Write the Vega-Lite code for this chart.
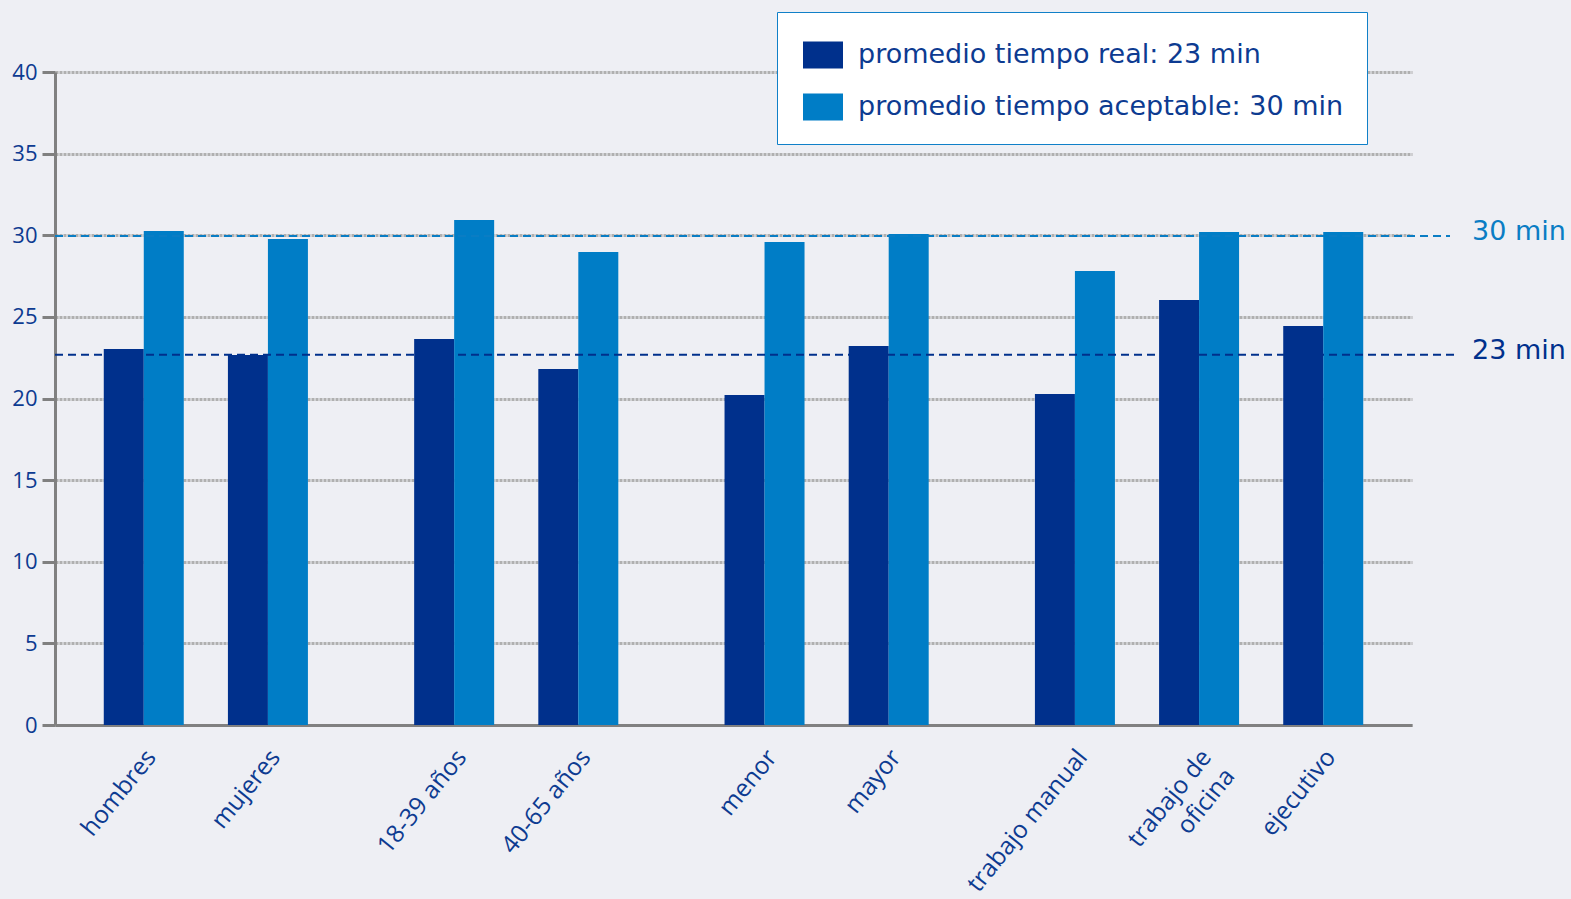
{
  "$schema": "https://vega.github.io/schema/vega-lite/v6.json",
  "width": 1357,
  "height": 653,
  "autosize": {"type": "none"},
  "padding": {"left": 55, "top": 72, "right": 159, "bottom": 174},
  "background": "#eeeff4",
  "config": {
    "view": {"stroke": null},
    "font": "Open Sans",
    "axis": {"labelFont": "Open Sans", "labelColor": "#0d3b91"}
  },
  "datasets": {
    "barras": [
      {"grupo": "hombres", "serie": "promedio tiempo real: 23 min", "valor": 23.03},
      {"grupo": "hombres", "serie": "promedio tiempo aceptable: 30 min", "valor": 30.26},
      {"grupo": "mujeres", "serie": "promedio tiempo real: 23 min", "valor": 22.66},
      {"grupo": "mujeres", "serie": "promedio tiempo aceptable: 30 min", "valor": 29.77},
      {"grupo": "18-39 años", "serie": "promedio tiempo real: 23 min", "valor": 23.64},
      {"grupo": "18-39 años", "serie": "promedio tiempo aceptable: 30 min", "valor": 30.93},
      {"grupo": "40-65 años", "serie": "promedio tiempo real: 23 min", "valor": 21.81},
      {"grupo": "40-65 años", "serie": "promedio tiempo aceptable: 30 min", "valor": 28.97},
      {"grupo": "menor", "serie": "promedio tiempo real: 23 min", "valor": 20.21},
      {"grupo": "menor", "serie": "promedio tiempo aceptable: 30 min", "valor": 29.59},
      {"grupo": "mayor", "serie": "promedio tiempo real: 23 min", "valor": 23.22},
      {"grupo": "mayor", "serie": "promedio tiempo aceptable: 30 min", "valor": 30.08},
      {"grupo": "trabajo manual", "serie": "promedio tiempo real: 23 min", "valor": 20.28},
      {"grupo": "trabajo manual", "serie": "promedio tiempo aceptable: 30 min", "valor": 27.81},
      {"grupo": "trabajo de oficina", "serie": "promedio tiempo real: 23 min", "valor": 26.03},
      {"grupo": "trabajo de oficina", "serie": "promedio tiempo aceptable: 30 min", "valor": 30.2},
      {"grupo": "ejecutivo", "serie": "promedio tiempo real: 23 min", "valor": 24.44},
      {"grupo": "ejecutivo", "serie": "promedio tiempo aceptable: 30 min", "valor": 30.2}
    ],
    "referencias": [
      {"etiqueta": "30 min", "valor": 29.95},
      {"etiqueta": "23 min", "valor": 22.68}
    ]
  },
  "layer": [
    {
      "data": {"name": "barras"},
      "transform": [{"filter": "datum.serie == 'promedio tiempo real: 23 min'"}],
      "mark": {"type": "bar", "width": 40, "xOffset": -20},
      "encoding": {
        "x": {
          "field": "grupo",
          "type": "nominal",
          "sort": null,
          "scale": {
            "domain": ["hombres", "_1", "mujeres", "_2", "_3", "18-39 años", "_4", "40-65 años", "_5", "_6", "menor", "_7", "mayor", "_8", "_9", "trabajo manual", "_10", "trabajo de oficina", "_11", "ejecutivo"],
            "paddingInner": 0,
            "paddingOuter": 0.93
          },
          "axis": {
            "title": null,
            "ticks": false,
            "domainColor": "#808080",
            "domainWidth": 3,
            "labelAngle": -51,
            "labelAlign": "right",
            "labelBaseline": "middle",
            "labelFontSize": 24.5,
            "labelPadding": 28,
            "labelOffset": 8,
            "labelLineHeight": 30,
            "labelOverlap": false,
            "labelLimit": 400,
            "labelExpr": "indexof(datum.value, '_') == 0 ? '' : (datum.value == 'trabajo de oficina' ? ['trabajo de', 'oficina'] : datum.value)"
          }
        },
        "y": {
          "field": "valor",
          "type": "quantitative",
          "scale": {"domain": [0, 40], "nice": false},
          "axis": {
            "title": null,
            "values": [0, 5, 10, 15, 20, 25, 30, 35, 40],
            "grid": true,
            "gridColor": "#b0b0b0",
            "gridWidth": 3,
            "gridDash": [3, 1],
            "domainColor": "#808080",
            "domainWidth": 3,
            "tickColor": "#808080",
            "tickWidth": 3,
            "tickSize": 13,
            "labelFontSize": 22,
            "labelPadding": 5
          }
        },
        "color": {
          "field": "serie",
          "type": "nominal",
          "scale": {
            "domain": ["promedio tiempo real: 23 min", "promedio tiempo aceptable: 30 min"],
            "range": ["#00308c", "#007dc6"]
          },
          "legend": {
            "title": null,
            "orient": "none",
            "legendX": 722,
            "legendY": -60,
            "fillColor": "#ffffff",
            "strokeColor": "#1080c8",
            "padding": 23,
            "symbolType": "M-1,-0.675H1V0.675H-1Z",
            "symbolSize": 1600,
            "symbolStrokeWidth": 0,
            "symbolOffset": 3,
            "labelOffset": 15,
            "labelFont": "DejaVu Sans",
            "labelFontSize": 27,
            "labelColor": "#0d3b91",
            "labelLimit": 800,
            "rowPadding": 18
          }
        }
      }
    },
    {
      "data": {"name": "barras"},
      "transform": [{"filter": "datum.serie == 'promedio tiempo aceptable: 30 min'"}],
      "mark": {"type": "bar", "width": 40, "xOffset": 20},
      "encoding": {
        "x": {"field": "grupo", "type": "nominal", "sort": null},
        "y": {"field": "valor", "type": "quantitative"},
        "color": {"field": "serie", "type": "nominal"}
      }
    },
    {
      "data": {"name": "referencias"},
      "transform": [{"filter": "datum.etiqueta == '30 min'"}],
      "mark": {"type": "rule", "color": "#0a7dc4", "strokeWidth": 2, "strokeDash": [8, 5], "x2Offset": 38},
      "encoding": {
        "y": {"field": "valor", "type": "quantitative"},
        "x": {"value": 0},
        "x2": {"value": "width"}
      }
    },
    {
      "data": {"name": "referencias"},
      "transform": [{"filter": "datum.etiqueta == '23 min'"}],
      "mark": {"type": "rule", "color": "#00308c", "strokeWidth": 2, "strokeDash": [8, 5], "x2Offset": 43},
      "encoding": {
        "y": {"field": "valor", "type": "quantitative"},
        "x": {"value": 0},
        "x2": {"value": "width"}
      }
    },
    {
      "data": {"name": "referencias"},
      "transform": [{"filter": "datum.etiqueta == '30 min'"}],
      "mark": {"type": "text", "color": "#0a7dc4", "font": "DejaVu Sans", "fontSize": 27, "align": "left", "baseline": "middle", "dx": 60, "dy": -4},
      "encoding": {
        "y": {"field": "valor", "type": "quantitative"},
        "x": {"value": "width"},
        "text": {"field": "etiqueta"}
      }
    },
    {
      "data": {"name": "referencias"},
      "transform": [{"filter": "datum.etiqueta == '23 min'"}],
      "mark": {"type": "text", "color": "#00308c", "font": "DejaVu Sans", "fontSize": 27, "align": "left", "baseline": "middle", "dx": 60, "dy": -4},
      "encoding": {
        "y": {"field": "valor", "type": "quantitative"},
        "x": {"value": "width"},
        "text": {"field": "etiqueta"}
      }
    }
  ]
}
